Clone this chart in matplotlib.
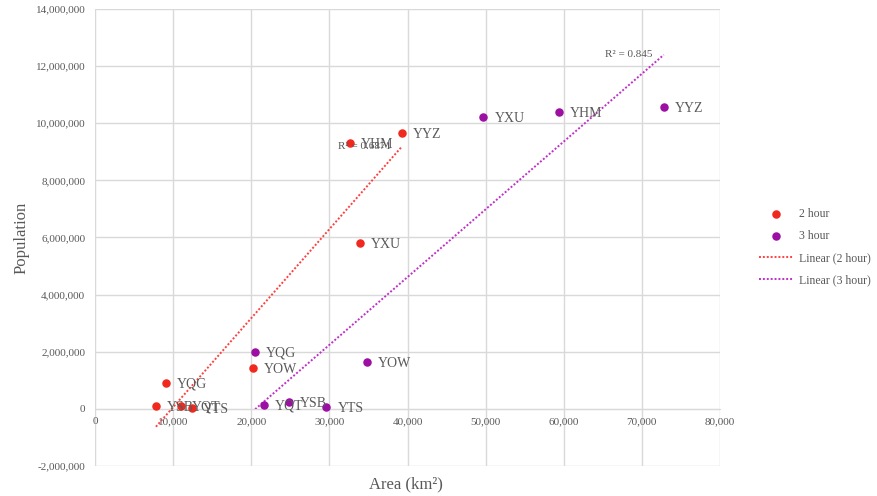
import numpy as np
from matplotlib import pyplot as plt
from matplotlib.ticker import FuncFormatter

# 2 hour drive catchment (area in km2, population)
airports_2h = ["YQG", "YSB", "YQT", "YTS", "YOW", "YXU", "YHM", "YYZ"]
area_2h = [9100, 7800, 11000, 12400, 20200, 33900, 32600, 39300]
pop_2h = [910000, 110000, 100000, 30000, 1440000, 5810000, 9310000, 9660000]

# 3 hour drive catchment
airports_3h = ["YQG", "YQT", "YSB", "YTS", "YOW", "YXU", "YHM", "YYZ"]
area_3h = [20500, 21600, 24800, 29600, 34800, 49700, 59400, 72800]
pop_3h = [2000000, 140000, 250000, 70000, 1650000, 10220000, 10400000, 10570000]

r2_labels = ["R\u00b2 = 0.6871", "R\u00b2 = 0.845"]

plt.rcParams['font.family'] = ['Liberation Serif', 'DejaVu Serif']
grey = "#595959"
red = "#f0281e"
purple = "#9c0fa3"

fig = plt.figure(figsize=(8.78, 4.96), dpi=100)
ax = fig.add_axes([95 / 878, 30 / 496, 625 / 878, 457 / 496])

ax.set_xlim(0, 80000)
ax.set_ylim(-2000000, 14000000)
ax.set_xticks(np.arange(0, 80001, 10000))
ax.set_yticks(np.arange(-2000000, 14000001, 2000000))
ax.xaxis.set_major_formatter(FuncFormatter(lambda v, p: f"{int(v):,}"))
ax.yaxis.set_major_formatter(FuncFormatter(lambda v, p: f"{int(v):,}"))
ax.grid(True, color="#d9d9d9", linewidth=1)
ax.set_axisbelow(True)
for s in ["top", "right", "left"]:
    ax.spines[s].set_visible(False)
ax.spines["bottom"].set_position(("data", 0))
ax.spines["bottom"].set_color("#d9d9d9")
ax.tick_params(length=0, labelsize=8, labelcolor=grey)
ax.tick_params(axis="x", pad=6)
ax.tick_params(axis="y", pad=7)

ax.scatter(area_2h, pop_2h, s=26, color=red, zorder=3, label="2 hour")
ax.scatter(area_3h, pop_3h, s=26, color=purple, zorder=3, label="3 hour")

# linear trendlines over each series range
sets = [(area_2h, pop_2h, "#ff4040", "Linear (2 hour)"),
        (area_3h, pop_3h, "#c030c8", "Linear (3 hour)")]
for (xs, ys, c, lab), r2 in zip(sets, r2_labels):
    k, b = np.polyfit(xs, ys, 1)
    xx = np.array([min(xs), max(xs)])
    ax.plot(xx, k * xx + b, linestyle=(0, (1, 1)), color=c, linewidth=1.4,
            label=lab, zorder=2)
    ax.annotate(r2, (xx[1], k * xx[1] + b), xytext=(-8, 0),
                textcoords="offset points", ha="right", va="center",
                fontsize=8, color=grey)

for names, xs, ys in [(airports_2h, area_2h, pop_2h), (airports_3h, area_3h, pop_3h)]:
    for n, x, y in zip(names, xs, ys):
        ax.annotate(n, (x, y), xytext=(8, -1), textcoords="offset points",
                    ha="left", va="center", fontsize=10, color=grey)

ax.set_xlabel("Area (km\u00b2)", fontsize=12, color=grey)
ax.xaxis.set_label_coords(0.497, -0.022)
ax.set_ylabel("Population", fontsize=12, color=grey)

fig.legend(loc="center left", bbox_to_anchor=(748 / 878, 249 / 496),
           frameon=False, fontsize=8.5, labelcolor=grey, handlelength=3,
           handletextpad=0.4, labelspacing=0.85)

fig.savefig("out.png", dpi=100)
